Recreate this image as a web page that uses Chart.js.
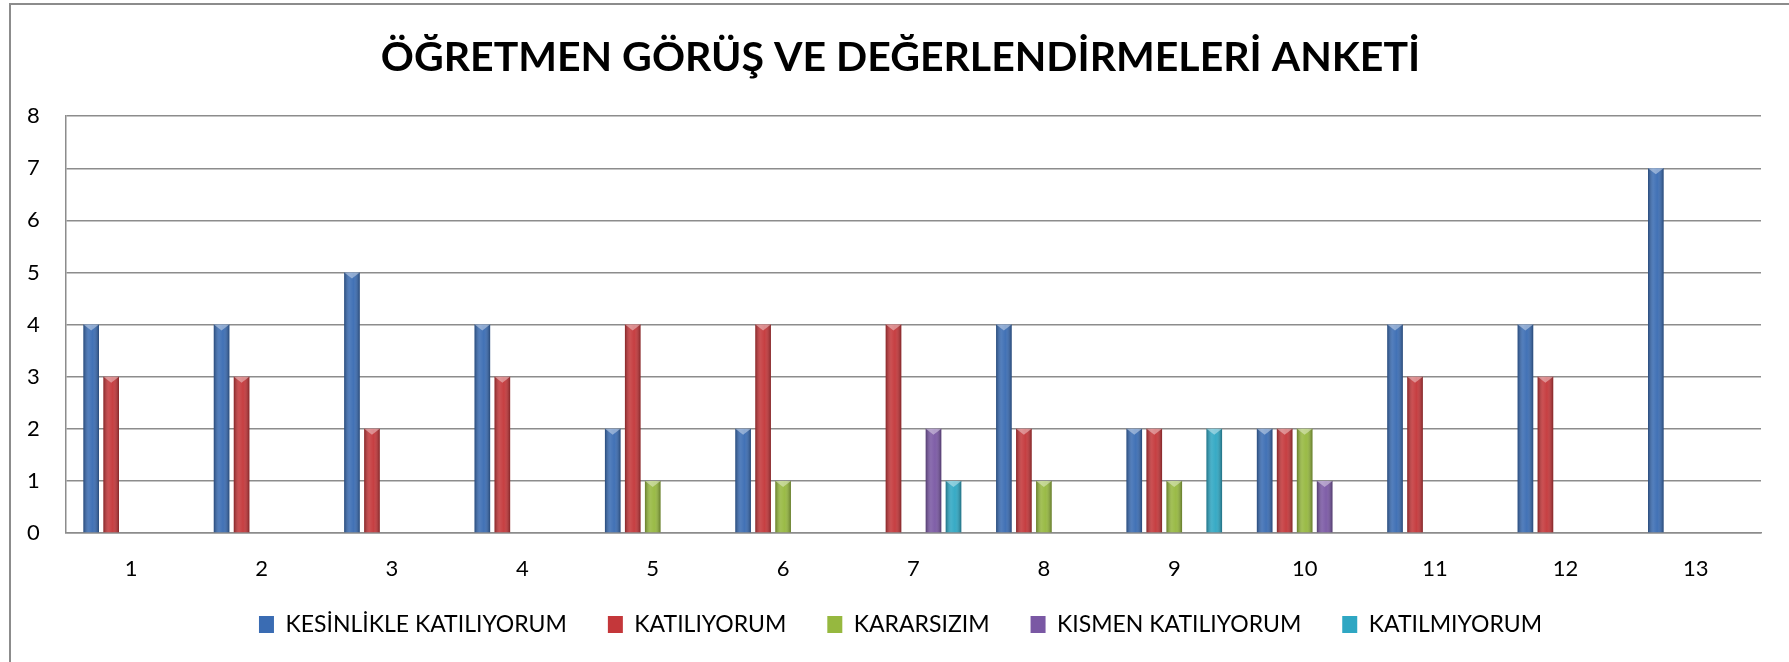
<!DOCTYPE html>
<html lang="tr">
<head>
    <meta charset="UTF-8">
    <title>Öğretmen Görüş ve Değerlendirmeleri Anketi</title>
    <script src="https://cdn.jsdelivr.net/npm/chart.js@4.4.1/dist/chart.umd.min.js"></script>
    <style>
        html, body {
            margin: 0;
            padding: 0;
            background: #fff;
            overflow: hidden;
        }
        .wrap {
            position: relative;
            width: 1789px;
            height: 662px;
        }
        /* Excel chart frame: only the left and top edges are in the picture */
        .frame {
            position: absolute;
            left: 9px;
            top: 3px;
            width: 2000px;
            height: 1000px;
            border-left: 2px solid #8c8c8c;
            border-top: 2px solid #8c8c8c;
        }
        canvas {
            position: absolute;
            left: 0;
            top: 0;
        }
    </style>
</head>
<body>
    <div class="wrap">
        <div class="frame"></div>
        <canvas id="anket" width="1789" height="662"></canvas>
    </div>

    <script>
        // Soru numaraları
        const questions = ['1', '2', '3', '4', '5', '6', '7', '8', '9', '10', '11', '12', '13'];

        // Cevap sayıları
        const kesinlikleKatiliyorum = [4, 4, 5, 4, 2, 2, 0, 4, 2, 2, 4, 4, 7];
        const katiliyorum           = [3, 3, 2, 3, 4, 4, 4, 2, 2, 2, 3, 3, 0];
        const kararsizim            = [0, 0, 0, 0, 1, 1, 0, 1, 1, 2, 0, 0, 0];
        const kismenKatiliyorum     = [0, 0, 0, 0, 0, 0, 2, 0, 0, 1, 0, 0, 0];
        const katilmiyorum          = [0, 0, 0, 0, 0, 0, 1, 0, 2, 0, 0, 0, 0];

        const seriesNames = ['KESİNLİKLE KATILIYORUM', 'KATILIYORUM', 'KARARSIZIM', 'KISMEN KATILIYORUM', 'KATILMIYORUM'];
        const seriesColors = ['#3a6cb3', '#c4373a', '#96b83f', '#7a58a4', '#2fa7c3'];
        const yTicks = [0, 1, 2, 3, 4, 5, 6, 7, 8];

        const font = 'Lato, "Open Sans", sans-serif';

        // silindir görünümü için çubukların üzerine gölge / parlaklık
        const barShading = {
            id: 'barShading',
            afterDatasetsDraw(chart) {
                const ctx = chart.ctx;
                chart.data.datasets.forEach((ds, i) => {
                    chart.getDatasetMeta(i).data.forEach(bar => {
                        const p = bar.getProps(['x', 'y', 'base', 'width'], true);
                        const h = p.base - p.y;
                        if (h < 1) return;
                        const left = p.x - p.width / 2;
                        const g = ctx.createLinearGradient(left, 0, left + p.width, 0);
                        g.addColorStop(0, 'rgba(0,0,0,0.32)');
                        g.addColorStop(0.35, 'rgba(255,255,255,0.12)');
                        g.addColorStop(0.6, 'rgba(255,255,255,0.04)');
                        g.addColorStop(1, 'rgba(0,0,0,0.34)');
                        ctx.save();
                        ctx.fillStyle = g;
                        ctx.fillRect(left, p.y, p.width, h);
                        ctx.fillStyle = 'rgba(255,255,255,0.4)';
                        ctx.beginPath();
                        ctx.moveTo(left, p.y);
                        ctx.lineTo(left + p.width, p.y);
                        ctx.lineTo(p.x, p.y + 6);
                        ctx.closePath();
                        ctx.fill();
                        ctx.restore();
                    });
                });
            }
        };

        const values = [kesinlikleKatiliyorum, katiliyorum, kararsizim, kismenKatiliyorum, katilmiyorum];

        new Chart(document.getElementById('anket'), {
            type: 'bar',
            data: {
                labels: questions,
                datasets: seriesNames.map((name, i) => ({
                    label: name,
                    data: values[i],
                    backgroundColor: seriesColors[i],
                    borderWidth: 0,
                    categoryPercentage: 0.767,
                    barPercentage: 0.78
                }))
            },
            options: {
                responsive: false,
                animation: false,
                layout: {
                    padding: { top: 0, left: 40, right: 28, bottom: 16 }
                },
                plugins: {
                    title: {
                        display: true,
                        text: 'ÖĞRETMEN GÖRÜŞ VE DEĞERLENDİRMELERİ ANKETİ',
                        color: '#000',
                        font: { family: font, size: 41, weight: 'bold' },
                        padding: { top: 33, bottom: 34 }
                    },
                    legend: {
                        position: 'bottom',
                        labels: {
                            color: '#000',
                            font: { family: font, size: 23 },
                            boxWidth: 15,
                            boxHeight: 17,
                            padding: 41
                        }
                    },
                    tooltip: { enabled: false }
                },
                scales: {
                    x: {
                        grid: { display: false },
                        border: { display: true, color: '#8c8c8c', width: 1.5 },
                        ticks: {
                            color: '#000',
                            font: { family: font, size: 22 },
                            mirror: true,
                            padding: -49,
                            maxRotation: 0
                        },
                        afterFit(scale) { scale.height = 39; }
                    },
                    y: {
                        min: yTicks[0],
                        max: yTicks[yTicks.length - 1],
                        grid: { color: '#8c8c8c', lineWidth: 1.5, drawTicks: false },
                        border: { display: true, color: '#8c8c8c', width: 1.5 },
                        afterBuildTicks(scale) {
                            scale.ticks = yTicks.map(v => ({ value: v }));
                        },
                        ticks: {
                            color: '#000',
                            font: { family: font, size: 22 },
                            mirror: true,
                            padding: -39
                        },
                        afterFit(scale) { scale.width = 26; }
                    }
                }
            },
            plugins: [barShading]
        });
    </script>
</body>
</html>
